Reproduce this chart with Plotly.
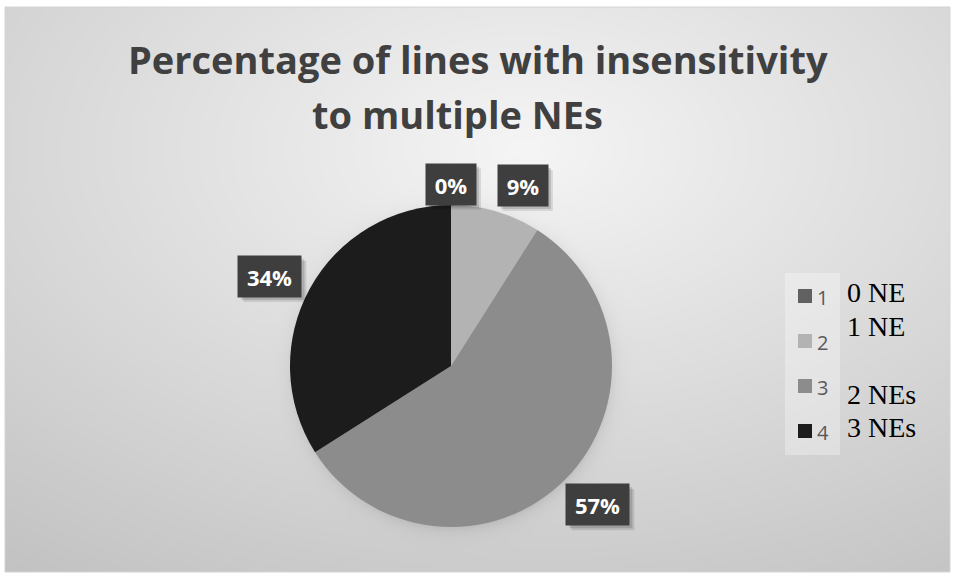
import base64
import math
import struct
import zlib

import numpy as np
import plotly.graph_objects as go

# ---- data -------------------------------------------------------------
categories = ["1", "2", "3", "4"]
group_names = ["0 NE", "1 NE", "2 NEs", "3 NEs"]
percentages = [0, 9, 57, 34]

slice_colors = ["#616161", "#b3b3b3", "#8c8c8c", "#1c1c1c"]

# ---- canvas geometry (pixels) ----------------------------------------
W, H = 956, 579
FRAME = (5, 7, 950, 572)          # chart area frame: x0, y0, x1, y1
PIE_C = (451, 366)                # pie centre
PIE_R = 161                       # pie radius


def px(x):
    return x / W


def py(y):
    return 1 - y / H


def png_uri(gray):
    """Encode a 2-D uint8 array as a grayscale PNG data URI."""
    h, w = gray.shape
    raw = b"".join(b"\x00" + gray[i].tobytes() for i in range(h))

    def chunk(tag, data):
        return (struct.pack(">I", len(data)) + tag + data
                + struct.pack(">I", zlib.crc32(tag + data) & 0xFFFFFFFF))

    png = (b"\x89PNG\r\n\x1a\n"
           + chunk(b"IHDR", struct.pack(">IIBBBBB", w, h, 8, 0, 0, 0, 0))
           + chunk(b"IDAT", zlib.compress(raw, 9))
           + chunk(b"IEND", b""))
    return "data:image/png;base64," + base64.b64encode(png).decode()


# radial grey gradient for the chart area, with a soft shadow under the pie
fx0, fy0, fx1, fy1 = FRAME
fw, fh = fx1 - fx0, fy1 - fy0
yy, xx = np.mgrid[0:fh, 0:fw].astype(float)
d = np.sqrt(((xx / fw) - 0.55) ** 2 + ((yy / fh) - 0.25) ** 2)
bg = 245 - 55 * d
r = np.sqrt((xx + fx0 - PIE_C[0] - 1) ** 2 + (yy + fy0 - PIE_C[1] - 3) ** 2)
bg -= 22 * np.exp(-np.clip(r - PIE_R + 4, 0, None) / 7.0)
bg = np.clip(bg, 190, 250).astype(np.uint8)

fig = go.Figure()

fig.add_trace(go.Pie(
    labels=categories,
    values=percentages,
    sort=False,
    direction="clockwise",
    rotation=0,
    marker=dict(colors=slice_colors, line=dict(width=0)),
    textinfo="none",
    hoverinfo="label+percent",
    showlegend=False,
    domain=dict(x=[px(PIE_C[0] - PIE_R), px(PIE_C[0] + PIE_R)],
                y=[py(PIE_C[1] + PIE_R), py(PIE_C[1] - PIE_R)]),
))

shapes = []
annotations = []

# frame border
shapes.append(dict(type="rect", xref="paper", yref="paper",
                   x0=px(fx0), x1=px(fx1), y0=py(fy1), y1=py(fy0),
                   line=dict(color="#d4d4d4", width=1), layer="above"))

# title, two centred lines
title_font = dict(family="Open Sans", size=38, color="#404040")
annotations.append(dict(text="<b>Percentage of lines with insensitivity</b>",
                        x=px(478), y=py(59), xref="paper", yref="paper",
                        xanchor="center", yanchor="middle", showarrow=False,
                        font=title_font))
annotations.append(dict(text="<b>to multiple NEs</b>",
                        x=px(457), y=py(114), xref="paper", yref="paper",
                        xanchor="center", yanchor="middle", showarrow=False,
                        font=title_font))

# data labels: dark boxes just outside each slice's mid-angle
label_nudge = [(0, -21), (27, -26), (33, 25), (-40, -12)]
total = sum(percentages)
cum = 0.0
for v, (dx, dy) in zip(percentages, label_nudge):
    mid = (cum + v / 2) / total * 2 * math.pi
    cum += v
    ex = PIE_C[0] + PIE_R * math.sin(mid)
    ey = PIE_C[1] - PIE_R * math.cos(mid)
    cx, cy = ex + dx, ey + dy
    txt = f"{v:.0f}%"
    bw = 50 if len(txt) <= 2 else 63
    bh = 41
    # drop shadow
    for off, a in ((5, 0.10), (3, 0.14)):
        shapes.append(dict(type="rect", xref="paper", yref="paper",
                           x0=px(cx - bw / 2 + off), x1=px(cx + bw / 2 + off),
                           y0=py(cy + bh / 2 + off), y1=py(cy - bh / 2 + off),
                           fillcolor=f"rgba(0,0,0,{a})", line=dict(width=0),
                           layer="above"))
    annotations.append(dict(text=f"<b>{txt}</b>", x=px(cx), y=py(cy),
                            xref="paper", yref="paper", xanchor="center",
                            yanchor="middle", showarrow=False,
                            width=bw, height=bh, borderpad=0,
                            bgcolor="#3e3e3e",
                            font=dict(family="Open Sans", size=22,
                                      color="#ffffff")))

# legend panel
shapes.append(dict(type="rect", xref="paper", yref="paper",
                   x0=px(785), x1=px(840), y0=py(455), y1=py(273),
                   fillcolor="rgba(255,255,255,0.3)", line=dict(width=0),
                   layer="above"))
legend_y = [296, 341, 386, 431]
for cat, col, ly in zip(categories, slice_colors, legend_y):
    shapes.append(dict(type="rect", xref="paper", yref="paper",
                       x0=px(798), x1=px(812), y0=py(ly + 7), y1=py(ly - 7),
                       fillcolor=col, line=dict(width=0), layer="above"))
    annotations.append(dict(text=cat, x=px(815), y=py(ly + 1), xref="paper",
                            yref="paper", xanchor="left", yanchor="middle",
                            showarrow=False,
                            font=dict(family="Open Sans", size=20,
                                      color="#595959")))

# group descriptions beside the legend
desc_y = [293, 326, 394, 427]
for name, dy_ in zip(group_names, desc_y):
    annotations.append(dict(text=name, x=px(845), y=py(dy_), xref="paper",
                            yref="paper", xanchor="left", yanchor="middle",
                            showarrow=False,
                            font=dict(family="Liberation Serif", size=28,
                                      color="#000000")))

fig.update_layout(
    width=W, height=H,
    margin=dict(l=0, r=0, t=0, b=0),
    paper_bgcolor="#ffffff",
    plot_bgcolor="#ffffff",
    images=[dict(source=png_uri(bg), xref="paper", yref="paper",
                 x=px(fx0), y=py(fy0), sizex=fw / W, sizey=fh / H,
                 xanchor="left", yanchor="top", sizing="stretch",
                 layer="below")],
    shapes=shapes,
    annotations=annotations,
    showlegend=False,
)

fig.write_html("out.html")
